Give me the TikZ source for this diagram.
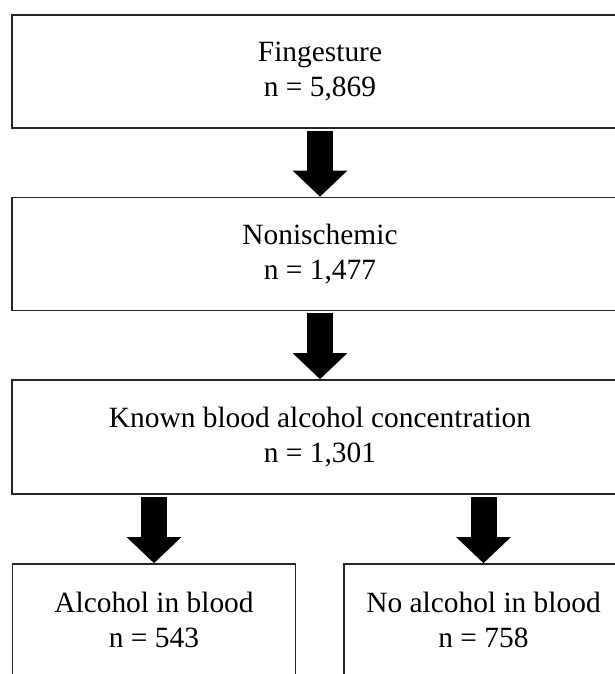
\documentclass[tikz,border=0pt]{standalone}
\usepackage{fontspec}
\setmainfont{Liberation Serif}
\usetikzlibrary{arrows.meta,positioning}

\tikzset{
  stagebox/.style={draw=black!85, line width=1.6pt, rectangle, align=center,
    minimum height=113pt, font=\fontsize{29.4}{35}\selectfont},
  flowarrow/.style={line width=26pt, -{Triangle[width=53pt,length=26pt]}, shorten <=2pt}
}

\begin{document}
\begin{tikzpicture}[x=1pt,y=-1pt]
\useasboundingbox (0,0) rectangle (615,674);
\clip (0,0) rectangle (615,674);
\fill[white] (0,0) rectangle (615,674);
% stages of the selection
\node[stagebox, minimum width=616pt] (fing) at (320,71.5) {Fingesture\\n = 5,869};
\node[stagebox, minimum width=616pt] (nonisch) at (320,254) {Nonischemic\\n = 1,477};
\node[stagebox, minimum width=616pt, minimum height=114pt] (known) at (320,437) {Known blood alcohol concentration\\n = 1,301};
% the two groups at the bottom
\node[stagebox, minimum width=283pt, minimum height=112pt] (alc) at (154,620) {Alcohol in blood\\n = 543};
\node[stagebox, minimum width=279pt, minimum height=112pt] (noalc) at (483.5,620) {No alcohol in blood\\n = 758};
% arrows
\draw[flowarrow] (fing.south) -- (nonisch.north);
\draw[flowarrow] (nonisch.south) -- (known.north);
\draw[flowarrow] (alc.north |- known.south) -- (alc.north);
\draw[flowarrow] (noalc.north |- known.south) -- (noalc.north);
\end{tikzpicture}
\end{document}
